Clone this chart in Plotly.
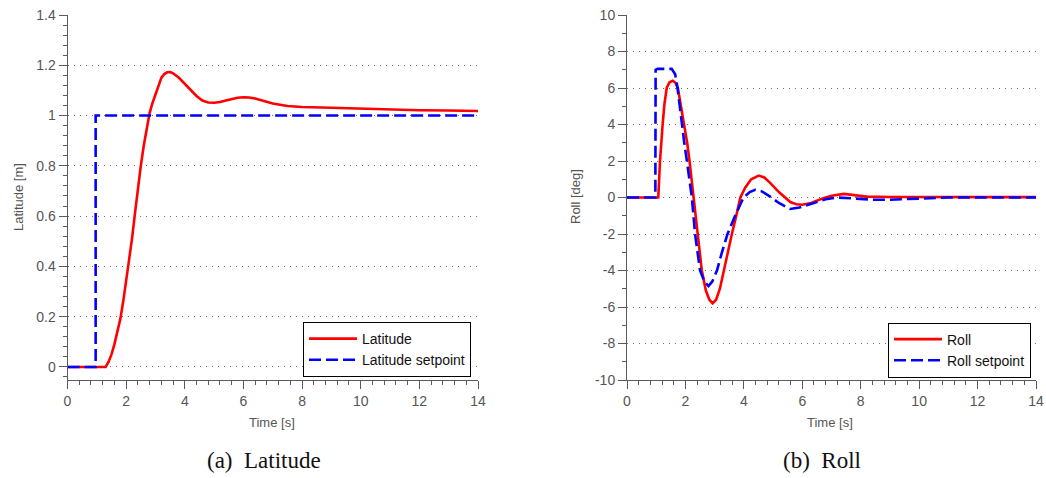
import plotly.graph_objects as go

# ---- Latitude step response ----
lat_t = [0, 0.5, 1.0, 1.1, 1.2, 1.3, 1.4, 1.5, 1.6, 1.7, 1.8, 1.9, 2.0, 2.1, 2.2,
         2.3, 2.4, 2.5, 2.6, 2.7, 2.8, 2.9, 3.0, 3.1, 3.2, 3.3, 3.4, 3.5, 3.6, 3.8,
         4.0, 4.2, 4.4, 4.6, 4.8, 5.0, 5.2, 5.4, 5.6, 5.8, 6.0, 6.2, 6.4, 6.6, 6.8,
         7.0, 7.5, 8.0, 9.0, 10, 11, 12, 13, 14]
lat = [0, 0, 0, 0, -0.003, 0.0, 0.02, 0.05, 0.09, 0.14, 0.19, 0.26, 0.34, 0.42, 0.51,
       0.61, 0.71, 0.80, 0.88, 0.95, 1.01, 1.05, 1.085, 1.12, 1.15, 1.165, 1.172, 1.173, 1.168, 1.15,
       1.125, 1.10, 1.078, 1.06, 1.052, 1.051, 1.054, 1.06, 1.066, 1.071, 1.073, 1.072, 1.068, 1.062, 1.055,
       1.048, 1.038, 1.034, 1.031, 1.027, 1.024, 1.021, 1.02, 1.018]
lat_sp_t = [0, 0.96, 0.96, 14]
lat_sp = [0, 0, 1, 1]

# ---- Roll response ----
roll_t = [0, 1.0, 1.07, 1.10, 1.13, 1.22, 1.28, 1.36, 1.45, 1.56, 1.65, 1.74, 1.85, 1.97,
          2.06, 2.14, 2.21, 2.28, 2.41, 2.56, 2.70, 2.82, 2.93, 3.05, 3.18, 3.31, 3.45, 3.59,
          3.74, 3.88, 4.05, 4.25, 4.51, 4.70, 4.90, 5.20, 5.59, 5.80, 6.00, 6.30, 6.70, 7.00,
          7.42, 7.80, 8.20, 9.0, 10, 11, 12, 13, 14]
roll = [0, 0, 0, 1.0, 2.0, 4.0, 5.1, 6.0, 6.3, 6.4, 6.3, 6.0, 5.0, 4.0,
        3.0, 2.0, 1.0, 0, -2.0, -4.0, -5.1, -5.6, -5.8, -5.6, -5.0, -4.0, -3.0, -2.0,
        -1.0, 0, 0.55, 1.0, 1.2, 1.1, 0.8, 0.3, -0.25, -0.37, -0.4, -0.3, -0.05, 0.1,
        0.2, 0.12, 0.05, 0.03, 0.02, 0.02, 0.02, 0.02, 0.02]
roll_sp_t = [0, 0.97, 0.98, 1.05, 1.53, 1.65, 1.73, 1.80, 1.88, 1.96, 2.05, 2.13, 2.22,
             2.33, 2.50, 2.65, 2.79, 2.92, 3.08, 3.25, 3.44, 3.70, 3.99, 4.20, 4.39, 4.60,
             4.90, 5.20, 5.59, 5.90, 6.30, 6.80, 7.20, 7.80, 8.45, 9.0, 9.6, 10.2, 11, 12, 13, 14]
roll_sp = [0, 0, 7.0, 7.05, 7.05, 6.75, 6.0, 5.0, 4.0, 3.0, 2.0, 1.0, 0,
           -2.0, -4.0, -4.6, -4.85, -4.6, -4.0, -3.0, -2.0, -1.0, 0, 0.3, 0.42, 0.35,
           0.05, -0.3, -0.63, -0.55, -0.35, -0.1, 0.0, -0.05, -0.12, -0.12, -0.08, -0.02, 0, 0, 0, 0]

# ---- tick labels ----
time_ticks = [0, 2, 4, 6, 8, 10, 12, 14]
time_tick_text = ["0", "2", "4", "6", "8", "10", "12", "14"]
lat_ticks = [0, 0.2, 0.4, 0.6, 0.8, 1.0, 1.2, 1.4]
lat_tick_text = ["0", "0.2", "0.4", "0.6", "0.8", "1", "1.2", "1.4"]
roll_ticks = [-10, -8, -6, -4, -2, 0, 2, 4, 6, 8, 10]
roll_tick_text = ["-10", "-8", "-6", "-4", "-2", "0", "2", "4", "6", "8", "10"]

W, H = 1046, 478
RED = "#ff0000"
BLUE = "#0000ff"
AX = "#5a5a5a"
SANS = "Liberation Sans"
SERIF = "Liberation Serif"

fig = go.Figure()
fig.add_trace(go.Scatter(x=lat_t, y=lat, mode="lines", name="Latitude",
                         line=dict(color=RED, width=2.6), xaxis="x", yaxis="y",
                         legend="legend"))
fig.add_trace(go.Scatter(x=lat_sp_t, y=lat_sp, mode="lines", name="Latitude setpoint",
                         line=dict(color=BLUE, width=2.6, dash="12px,5px"),
                         xaxis="x", yaxis="y", legend="legend"))
fig.add_trace(go.Scatter(x=roll_t, y=roll, mode="lines", name="Roll",
                         line=dict(color=RED, width=2.6), xaxis="x2", yaxis="y2",
                         legend="legend2"))
fig.add_trace(go.Scatter(x=roll_sp_t, y=roll_sp, mode="lines", name="Roll setpoint",
                         line=dict(color=BLUE, width=2.6, dash="12px,5px"),
                         xaxis="x2", yaxis="y2", legend="legend2"))

y_dom = [(H - 380) / H, (H - 15) / H]
left_dom = [67.5 / W, 478 / W]
right_dom = [627 / W, 1036 / W]

tick_font = dict(family=SANS, size=14, color="#555555")


def x_axis(domain, anchor):
    return dict(domain=domain, anchor=anchor, range=[0, 14], automargin=False,
                tickmode="array", tickvals=time_ticks, ticktext=time_tick_text,
                ticks="outside", ticklen=8, tickwidth=1, tickcolor=AX,
                showline=True, linecolor=AX, linewidth=1,
                showgrid=False, zeroline=False, tickfont=tick_font,
                minor=dict(tick0=0, dtick=0.4, ticks="outside", ticklen=4,
                           tickwidth=1, tickcolor=AX, showgrid=False),
                fixedrange=True)


def y_axis(anchor, rng, vals, text, minor_dtick):
    return dict(domain=y_dom, anchor=anchor, range=rng, automargin=False,
                tickmode="array", tickvals=vals, ticktext=text,
                ticks="outside", ticklen=8, tickwidth=1, tickcolor=AX,
                showline=True, linecolor=AX, linewidth=1,
                showgrid=True, gridcolor="#6e6e6e", gridwidth=1, griddash="1px,5px",
                zeroline=False, tickfont=tick_font,
                minor=dict(tick0=0, dtick=minor_dtick, ticks="outside", ticklen=4,
                           tickwidth=1, tickcolor=AX, showgrid=False),
                fixedrange=True)


legend_common = dict(bgcolor="white", bordercolor="#000000", borderwidth=1,
                     font=dict(family=SANS, size=14, color="#111111"),
                     xanchor="right", yanchor="middle", itemwidth=48,
                     tracegroupgap=0)

fig.update_layout(
    width=W, height=H,
    margin=dict(l=0, r=0, t=0, b=0, pad=0, autoexpand=False),
    paper_bgcolor="white", plot_bgcolor="white",
    xaxis=x_axis(left_dom, "y"),
    yaxis=y_axis("x", [-0.052, 1.4], lat_ticks, lat_tick_text, 0.04),
    xaxis2=x_axis(right_dom, "y2"),
    yaxis2=y_axis("x2", [-10, 10], roll_ticks, roll_tick_text, 1),
    legend=dict(x=471 / W, y=1 - 349.5 / H, **legend_common),
    legend2=dict(x=1031 / W, y=1 - 350 / H, **legend_common),
    showlegend=True,
)

annotations = [
    dict(text="Time [s]", x=272 / W, y=1 - 422 / H),
    dict(text="Time [s]", x=830 / W, y=1 - 422 / H),
    dict(text="Latitude [m]", x=18 / W, y=1 - 197 / H, textangle=-90),
    dict(text="Roll [deg]", x=575 / W, y=1 - 197 / H, textangle=-90),
]
for a in annotations:
    fig.add_annotation(xref="paper", yref="paper", showarrow=False,
                       xanchor="center", yanchor="middle",
                       font=dict(family=SANS, size=13, color="#555555"), **a)

captions = [
    dict(text="(a)  Latitude", x=264 / W),
    dict(text="(b)  Roll", x=822 / W),
]
for c in captions:
    fig.add_annotation(xref="paper", yref="paper", showarrow=False,
                       xanchor="center", yanchor="middle", y=1 - 460 / H,
                       font=dict(family=SERIF, size=23, color="#111111"), **c)

fig.write_html("out.html", config=dict(displayModeBar=False))
